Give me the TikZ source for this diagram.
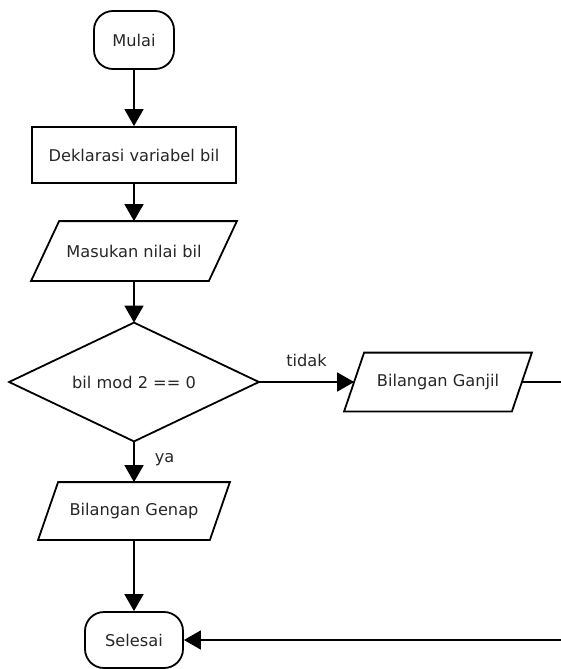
\documentclass[tikz,border=0pt]{standalone}
\usepackage{fontspec}
\setmainfont{DejaVu Sans}
\usetikzlibrary{arrows.meta}
\begin{document}
\begin{tikzpicture}[x=1pt,y=-1pt,
  base/.style={line width=1.8pt, font=\fontsize{16.2}{19}\selectfont, text=black!85, inner sep=0pt},
  term/.style={base, draw, rectangle, rounded corners=19pt, minimum height=58pt},
  procbox/.style={base, draw, rectangle, minimum width=204pt, minimum height=56pt},
  iobox/.style={base, rectangle, minimum height=58pt},
  decbox/.style={base, rectangle, minimum width=248pt, minimum height=117pt},
  flow/.style={line width=1.8pt, -{Triangle[width=19pt,length=17pt]}},
  plain/.style={line width=1.8pt},
  lbl/.style={font=\fontsize{16.2}{19}\selectfont, text=black!85, inner sep=0pt},
]
\useasboundingbox (0,0) rectangle (561,669);

\node[term, minimum width=80pt] (start) at (134,40) {Mulai};
\node[procbox] (decl) at (134,155) {Deklarasi variabel bil};
\node[iobox, minimum width=176pt] (inp) at (134,251) {Masukan nilai bil};
\node[decbox] (dec) at (134,382) {bil mod 2 == 0};
\node[iobox, minimum width=166pt, minimum height=57pt] (odd) at (438,382) {Bilangan Ganjil};
\node[iobox, minimum width=170pt, minimum height=56pt] (even) at (134,511) {Bilangan Genap};
\node[term, minimum width=98pt, minimum height=56pt] (stop) at (134,640) {Selesai};

\coordinate (oddend) at (563,382);
\coordinate (stopend) at (563,640);

% decision outline
\draw[plain] (dec.north) -- (dec.east) -- (dec.south) -- (dec.west) -- cycle;
% parallelogram outlines
\draw[plain] ([xshift=-14pt]inp.south west) -- ([xshift=14pt]inp.north west) -- ([xshift=14pt]inp.north east) -- ([xshift=-14pt]inp.south east) -- cycle;
\draw[plain] ([xshift=-10pt]odd.south west) -- ([xshift=10pt]odd.north west) -- ([xshift=10pt]odd.north east) -- ([xshift=-10pt]odd.south east) -- cycle;
\draw[plain] ([xshift=-10pt]even.south west) -- ([xshift=10pt]even.north west) -- ([xshift=10pt]even.north east) -- ([xshift=-10pt]even.south east) -- cycle;

% connectors
\draw[flow] (start.south) -- (decl.north);
\draw[flow] (decl.south) -- (inp.north);
\draw[flow] (inp.south) -- (dec.north);
\draw[flow] (dec.east) -- node[lbl, above=14pt, pos=0.5] (tidak) {tidak} (odd.west);
\draw[flow] (dec.south) -- node[lbl, right=20pt, pos=0.45] (ya) {ya} (even.north);
\draw[flow] (even.south) -- (stop.north);
\draw[plain] (odd.east) -- (oddend);
\draw[flow] (stopend) -- (stop.east);
\end{tikzpicture}
\end{document}
